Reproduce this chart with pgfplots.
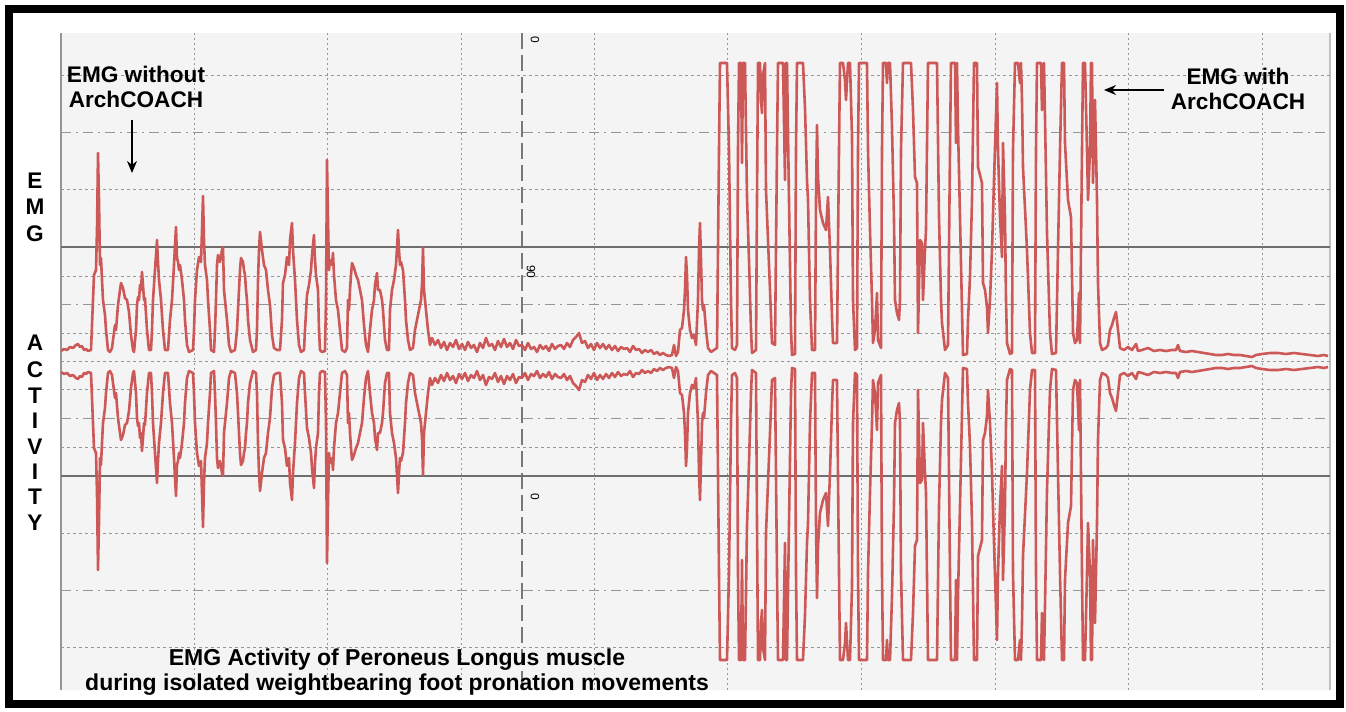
\documentclass[border=0pt]{standalone}
\usepackage{pgfplots}
\pgfplotsset{compat=1.18}
\usepackage{pgfplotstable}
\usetikzlibrary{arrows.meta}
\usepackage{fontspec}
\setmainfont{Liberation Sans}
\definecolor{trace}{RGB}{205,88,88}
\definecolor{paper}{RGB}{244,244,244}
\definecolor{gridc}{RGB}{150,150,150}
\definecolor{solidc}{RGB}{110,110,110}

% upper EMG envelope, x = horizontal pixel, y = vertical pixel (downwards)
\pgfplotstableread{
x y
61 351
64 349
67 350
70 347
73 348
76 345
78 344
80 347
82 346
84 350
86 349
88 351
91 350
93 300
94 275
96 270
97 230
98 153
99 200
100 265
101 258
102 280
103 300
105 315
106 330
108 350
110 352
112 348
113 340
115 325
116 330
118 305
120 290
121 283
123 288
125 298
127 300
129 312
131 335
133 350
134 352
136 330
137 305
138 297
139 300
140 285
141 290
142 272
143 285
144 300
145 298
147 330
149 350
151 350
152 330
153 300
155 270
156 255
157 240
158 262
159 280
161 300
163 330
165 350
168 350
170 320
172 300
174 265
175 245
176 227
177 258
178 262
179 270
180 265
182 280
184 300
185 320
187 345
189 352
193 350
194 330
195 300
197 270
199 257
201 262
202 230
203 196
204 240
205 265
207 280
208 300
210 330
211 350
214 352
215 330
216 300
217 265
218 255
220 262
222 250
223 247
224 290
225 300
227 320
229 345
231 352
235 350
237 330
239 290
240 270
241 258
243 262
244 270
245 275
246 290
247 300
248 320
250 340
253 352
256 350
257 330
258 280
259 250
260 232
262 250
264 265
266 270
268 290
270 305
272 335
274 348
277 350
280 350
282 320
283 283
285 275
287 257
289 265
290 240
292 223
293 250
295 280
297 320
299 345
301 352
304 350
305 330
307 295
309 285
311 270
312 255
314 235
315 260
316 275
318 290
319 330
320 350
322 352
325 351
326 300
327 160
328 220
329 270
330 260
332 265
333 253
334 275
336 300
338 310
340 330
342 350
345 352
347 348
348 300
349 310
350 290
351 275
352 263
354 268
356 275
358 280
360 290
362 300
364 325
366 345
368 352
370 330
372 310
374 300
375 285
377 273
378 290
380 290
382 300
383 310
385 340
387 350
389 350
390 310
392 290
394 280
396 265
398 230
399 250
400 265
401 262
403 270
405 300
406 320
408 340
410 350
413 348
415 330
417 320
419 310
421 300
422 285
423 248
424 290
426 310
428 330
430 345
432 338
435 345
438 340
441 348
444 342
447 350
450 343
453 347
456 340
459 349
462 344
465 350
468 342
471 348
474 345
477 352
480 343
483 348
486 338
489 346
492 344
495 350
498 341
501 347
504 339
507 347
510 343
513 349
516 340
519 346
522 345
525 350
528 343
531 349
534 347
537 352
540 345
543 349
546 346
549 351
552 344
555 349
558 346
561 345
564 349
567 343
570 347
573 340
576 337
579 333
582 343
585 341
588 348
591 344
594 350
597 343
600 348
603 344
606 349
609 345
612 350
615 346
618 351
621 347
624 349
627 348
630 352
633 346
636 350
639 349
642 353
645 350
648 352
651 350
654 354
657 352
660 355
663 353
666 355
669 356
672 355
674 345
676 356
678 352
680 330
682 328
684 310
685 290
686 257
687 275
688 310
690 330
692 338
694 335
696 345
698 300
699 250
700 223
701 260
702 300
703 310
704 305
706 330
708 348
711 352
714 350
717 348
719 150
720 63
727 63
729 150
731 300
732 348
735 350
737 345
738 150
739 63
741 63
742 163
743 63
745 63
747 197
749 260
751 330
752 353
756 350
757 200
758 63
760 63
761 100
762 113
763 75
765 63
766 190
768 240
770 290
772 343
775 345
777 150
778 63
783 63
785 180
786 63
787 63
789 200
791 330
792 355
795 354
796 150
797 63
803 63
805 108
807 180
808 200
810 300
812 350
815 350
816 200
817 125
818 177
820 210
823 223
826 230
828 197
830 250
832 317
833 343
837 343
839 150
840 63
843 63
845 80
846 100
848 63
850 63
852 137
853 300
855 350
857 348
858 150
859 63
867 63
868 150
870 230
872 300
873 343
875 330
877 293
878 340
881 348
882 150
883 63
886 63
887 83
888 63
890 63
892 127
894 220
895 300
897 313
899 320
900 300
901 150
903 63
911 63
913 110
915 177
917 183
918 333
920 240
922 243
923 300
925 250
926 230
928 63
937 63
939 217
941 300
942 323
945 350
948 345
950 150
951 63
955 63
956 143
957 63
958 127
960 217
962 310
963 355
967 354
968 320
970 277
972 200
974 63
977 63
978 167
980 175
982 183
983 283
985 290
987 307
988 333
990 300
992 250
994 180
997 83
998 150
1000 217
1002 257
1003 143
1005 217
1006 300
1007 343
1010 354
1012 353
1013 150
1015 63
1018 63
1020 83
1021 63
1022 100
1023 167
1027 250
1030 333
1032 353
1035 353
1036 150
1037 63
1041 63
1042 110
1044 63
1045 117
1047 233
1049 300
1050 333
1052 354
1056 353
1058 250
1060 150
1062 63
1064 63
1065 143
1068 200
1071 217
1073 333
1075 343
1077 340
1079 293
1080 343
1082 150
1083 63
1085 63
1087 150
1088 200
1090 150
1091 63
1092 63
1093 183
1094 140
1095 100
1097 200
1098 283
1100 343
1102 350
1106 348
1108 345
1110 330
1112 325
1114 318
1116 312
1118 330
1120 348
1124 350
1128 347
1132 350
1136 344
1138 351
1142 350
1148 348
1154 351
1160 350
1166 351
1172 350
1176 350
1178 345
1180 351
1186 352
1192 351
1198 352
1204 353
1210 354
1216 355
1222 355
1228 354
1234 355
1240 355
1246 356
1252 357
1256 355
1262 354
1270 353
1278 353
1286 354
1294 353
1302 354
1310 355
1318 356
1324 355
1328 356
}\upper

\begin{document}
\begin{tikzpicture}
\begin{axis}[
  scale only axis, width=634.5pt, height=328.5pt,
  xmin=61, xmax=1330, ymin=33, ymax=690, y dir=reverse,
  axis lines=none, xtick=\empty, ytick=\empty, clip=false,
]
\coordinate (bbA) at (axis cs:0,712);
\coordinate (bbB) at (axis cs:1346,0);
% page background and plot paper
\fill[white] (axis cs:0,0) rectangle (axis cs:1346,712);
\fill[paper] (axis cs:61,33) rectangle (axis cs:1330,690);
% vertical grid
\pgfplotsinvokeforeach{194,327.5,461,594,727.5,861,995,1128,1262}{
  \draw[gridc, dash pattern=on 1pt off 1.5pt, line width=0.5pt] (axis cs:#1,33) -- (axis cs:#1,690);
}
\draw[gridc, line width=0.6pt] (axis cs:61,33) -- (axis cs:61,690);
\draw[gridc!60, line width=0.6pt] (axis cs:1330,33) -- (axis cs:1330,690);
\draw[gridc!80!black, dash pattern=on 8pt off 3pt, line width=0.6pt] (axis cs:522,33) -- (axis cs:522,690);
% horizontal grid
\pgfplotsinvokeforeach{76,189,276,333,361,389,447,533,647}{
  \draw[gridc, dash pattern=on 1.5pt off 1.5pt, line width=0.5pt] (axis cs:61,#1) -- (axis cs:1330,#1);
}
\pgfplotsinvokeforeach{133,304,418,590}{
  \draw[gridc, dash pattern=on 5pt off 2.5pt on 1pt off 2.5pt, line width=0.5pt] (axis cs:61,#1) -- (axis cs:1330,#1);
}
\pgfplotsinvokeforeach{247,476}{
  \draw[solidc, line width=1.2pt] (axis cs:61,#1) -- (axis cs:1330,#1);
}
% chart paper numbers
\node[rotate=-90, font=\fontsize{6}{6}\selectfont] at (axis cs:535,40) {0};
\node[rotate=-90, font=\fontsize{6}{6}\selectfont] at (axis cs:531,272) {90};
\node[rotate=-90, font=\fontsize{6}{6}\selectfont] at (axis cs:535,497) {0};
% traces
\addplot[trace, line width=1.3pt, line join=round] table[x=x, y=y] {\upper};
\addplot[trace, line width=1.3pt, line join=round] table[x=x, y expr=723-\thisrow{y}] {\upper};
% annotations
\node[font=\bfseries\fontsize{11.3}{12.5}\selectfont, align=center] at (axis cs:136,87) {EMG without\\ArchCOACH};
\node[font=\bfseries\fontsize{11.3}{12.5}\selectfont, align=center] at (axis cs:1238,89) {EMG with\\ArchCOACH};
\draw[-{Stealth[length=6pt,width=5pt]}, line width=1pt] (axis cs:132,120) -- (axis cs:132,173);
\draw[-{Stealth[length=6pt,width=5pt]}, line width=1pt] (axis cs:1164,90) -- (axis cs:1104,90);
\node[font=\bfseries\fontsize{11.3}{12}\selectfont] at (axis cs:35,181) {E};
\node[font=\bfseries\fontsize{11.3}{12}\selectfont] at (axis cs:35,207) {M};
\node[font=\bfseries\fontsize{11.3}{12}\selectfont] at (axis cs:35,234) {G};
\node[font=\bfseries\fontsize{11.3}{12}\selectfont] at (axis cs:35,343) {A};
\node[font=\bfseries\fontsize{11.3}{12}\selectfont] at (axis cs:35,370) {C};
\node[font=\bfseries\fontsize{11.3}{12}\selectfont] at (axis cs:35,396) {T};
\node[font=\bfseries\fontsize{11.3}{12}\selectfont] at (axis cs:35,421) {I};
\node[font=\bfseries\fontsize{11.3}{12}\selectfont] at (axis cs:35,447) {V};
\node[font=\bfseries\fontsize{11.3}{12}\selectfont] at (axis cs:35,472) {I};
\node[font=\bfseries\fontsize{11.3}{12}\selectfont] at (axis cs:35,497) {T};
\node[font=\bfseries\fontsize{11.3}{12}\selectfont] at (axis cs:35,523) {Y};
\node[font=\bfseries\fontsize{11.5}{12.5}\selectfont, align=center] at (axis cs:397,672) {EMG Activity of Peroneus Longus muscle\\during isolated weightbearing foot pronation movements};
% frame
\draw[black, line width=4pt] (axis cs:9,9) rectangle (axis cs:1340,704);
\end{axis}
\pgfresetboundingbox
\useasboundingbox (bbA) rectangle (bbB);
\end{tikzpicture}
\end{document}
